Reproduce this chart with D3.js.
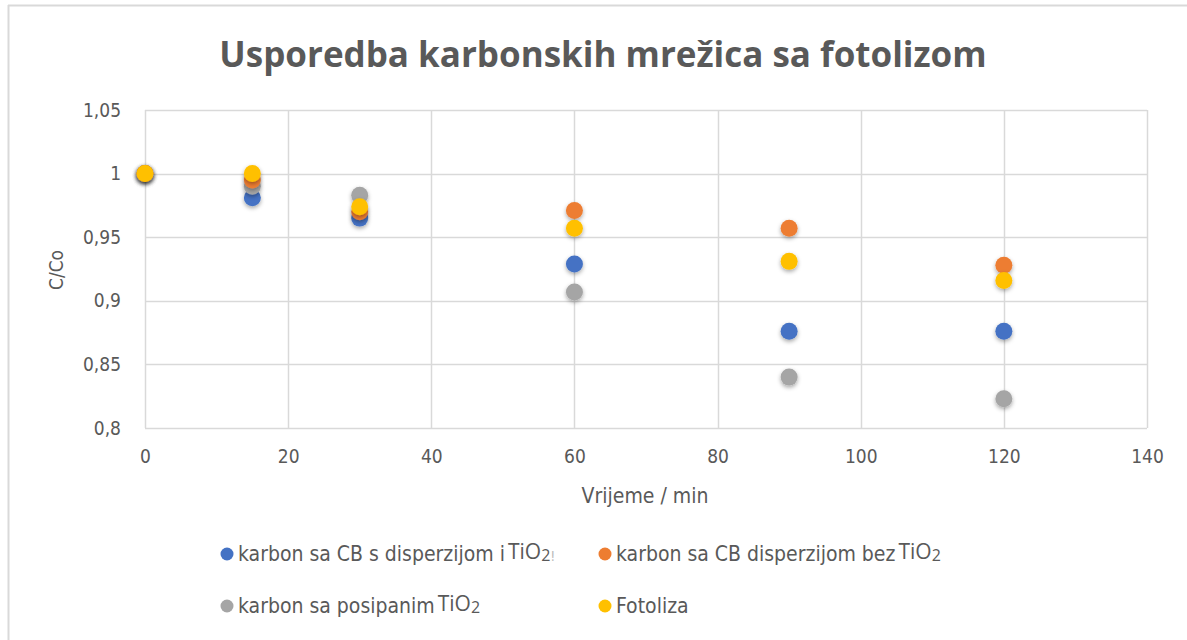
<!DOCTYPE html>
<html><head><meta charset="utf-8">
<script src="https://cdn.jsdelivr.net/npm/d3@7"></script>
<style>
html,body{margin:0;padding:0;background:#fff;}
svg{display:block;}
</style></head>
<body>
<svg id="chart" width="1187" height="640"></svg>
<script>
const times = [0, 15, 30, 60, 90, 120];
const seriesNames = [
  "karbon sa CB s disperzijom i ",
  "karbon sa CB disperzijom bez ",
  "karbon sa posipanim ",
  "Fotoliza"
];
const seriesHasTiO2 = [true, true, true, false];
const seriesColors = ["#4472C4", "#ED7D31", "#A5A5A5", "#FFC000"];
const blueValues   = [1.000, 0.981, 0.965, 0.929, 0.876, 0.876];
const orangeValues = [1.000, 0.995, 0.970, 0.971, 0.957, 0.928];
const grayValues   = [1.000, 0.990, 0.983, 0.907, 0.840, 0.823];
const yellowValues = [1.000, 1.000, 0.974, 0.957, 0.931, 0.916];
const xTicks = [0, 20, 40, 60, 80, 100, 120, 140];
const yTicks = [0.8, 0.85, 0.9, 0.95, 1, 1.05];
const titleText = "Usporedba karbonskih mrežica sa fotolizom";
const xTitle = "Vrijeme / min";
const yTitle = "C/Co";

const series = [blueValues, grayValues, orangeValues, yellowValues];
const seriesColorOrder = ["#4472C4", "#A5A5A5", "#ED7D31", "#FFC000"];

const svg = d3.select("#chart");
const defs = svg.append("defs");
const f = defs.append("filter").attr("id","shadow").attr("x","-60%").attr("y","-60%").attr("width","220%").attr("height","220%");
f.append("feDropShadow").attr("dx",0).attr("dy",2).attr("stdDeviation",2.2).attr("flood-color","#000").attr("flood-opacity",0.35);

// outer border
svg.append("line").attr("x1",8.5).attr("x2",8.5).attr("y1",5).attr("y2",640).attr("stroke","#d9d9d9").attr("stroke-width",2);
svg.append("line").attr("x1",8).attr("x2",1187).attr("y1",5.5).attr("y2",5.5).attr("stroke","#d9d9d9").attr("stroke-width",2);

const x = d3.scaleLinear().domain([0,140]).range([145,1147]);
const y = d3.scaleLinear().domain([0.8,1.05]).range([428,110]);

const cond = "'DejaVu Sans Condensed','Liberation Sans Narrow',sans-serif";

// gridlines
const grid = svg.append("g");
grid.selectAll(".h").data(yTicks).join("line")
  .attr("x1",x(0)).attr("x2",x(140)).attr("y1",d=>Math.round(y(d))+0.5).attr("y2",d=>Math.round(y(d))+0.5)
  .attr("stroke","#d9d9d9").attr("stroke-width",1.5);
grid.selectAll(".v").data(xTicks).join("line")
  .attr("y1",y(0.8)).attr("y2",y(1.05)).attr("x1",d=>Math.round(x(d))+0.5).attr("x2",d=>Math.round(x(d))+0.5)
  .attr("stroke","#d9d9d9").attr("stroke-width",1.5);

// axes via d3 axis
const fmt = d => String(+d.toFixed(2)).replace(".", ",");
const yAxis = svg.append("g").attr("transform",`translate(${x(0)},0)`)
  .call(d3.axisLeft(y).tickValues(yTicks).tickFormat(fmt).tickSize(0).tickPadding(24));
yAxis.select(".domain").remove();
yAxis.selectAll("text").attr("font-family",cond).attr("font-size",19).attr("fill","#595959");

const xAxis = svg.append("g").attr("transform",`translate(0,${y(0.8)})`)
  .call(d3.axisBottom(x).tickValues(xTicks).tickFormat(d3.format("d")).tickSize(0).tickPadding(22));
xAxis.select(".domain").remove();
xAxis.selectAll("text").attr("font-family",cond).attr("font-size",19).attr("fill","#595959");

// titles
svg.append("text").attr("x",603).attr("y",67).attr("text-anchor","middle")
  .attr("font-family","'Open Sans',sans-serif").attr("font-weight","bold").attr("font-size",35).attr("fill","#595959").text(titleText);
svg.append("text").attr("x",645).attr("y",503).attr("text-anchor","middle")
  .attr("font-family",cond).attr("font-size",21).attr("fill","#595959").text(xTitle);
svg.append("text").attr("transform","translate(63,270) rotate(-90)").attr("text-anchor","middle")
  .attr("font-family",cond).attr("font-size",19).attr("fill","#595959").text(yTitle);

// points
const pts = svg.append("g");
series.forEach((vals,i)=>{
  pts.append("g").selectAll("circle").data(times.map((t,j)=>({t,v:vals[j]}))).join("circle")
    .attr("cx",d=>x(d.t)).attr("cy",d=>y(d.v)).attr("r",8.5)
    .attr("fill",seriesColorOrder[i]).attr("filter","url(#shadow)");
});

// legend
const legendPos = [[227,554],[605,554],[227,606],[605,606]];
seriesNames.forEach((name,i)=>{
  const [lx,ly] = legendPos[i];
  svg.append("circle").attr("cx",lx).attr("cy",ly).attr("r",6.5).attr("fill",seriesColors[i]);
  const t = svg.append("text").attr("x",lx+11).attr("y",ly+7).attr("font-family",cond).attr("font-size",21).attr("fill","#595959");
  t.append("tspan").text(name);
  if (seriesHasTiO2[i]) {
    t.append("tspan").attr("font-family","'Open Sans',sans-serif").attr("font-size",21).attr("dy",-2).attr("dx",-3).text("TiO");
    t.append("tspan").attr("font-family","'Open Sans',sans-serif").attr("font-size",16).attr("dy",2).text("2");
    if (i === 0) t.append("tspan").attr("font-size",14).attr("fill","#bbbbbb").text("!");
  }
});
</script>
</body></html>
